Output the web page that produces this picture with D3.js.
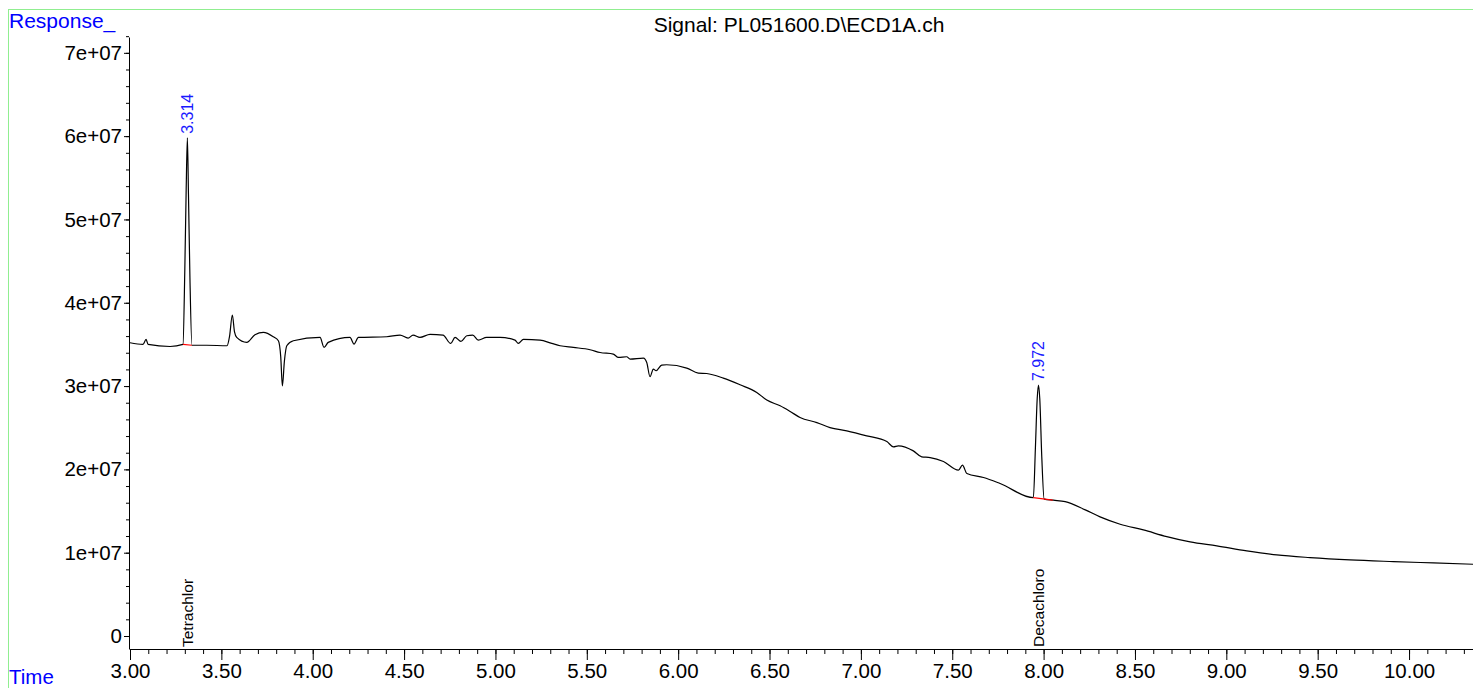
<!DOCTYPE html>
<html>
<head>
<meta charset="utf-8">
<script src="https://cdn.jsdelivr.net/npm/d3@7"></script>
<style>
  html, body { margin: 0; padding: 0; background: #fff; }
  svg { display: block; font-family: "Liberation Sans", Arial, sans-serif; }
</style>
</head>
<body>
<svg id="chart" width="1473" height="688"></svg>
<script>
// Chromatogram trace: retention time (min) and response
const times = [
  3.000, 3.071, 3.088, 3.099, 3.219, 3.290, 3.300, 3.307, 3.314, 3.320, 3.328, 3.339,
  3.420, 3.531, 3.545, 3.560, 3.572, 3.584, 3.639, 3.684, 3.730, 3.784, 3.812, 3.825,
  3.834, 3.845, 3.858, 3.894, 4.040, 4.062, 4.085, 4.204, 4.226, 4.250, 4.405, 4.478,
  4.522, 4.549, 4.587, 4.642, 4.713, 4.755, 4.779, 4.811, 4.843, 4.876, 4.906, 4.952,
  5.025, 5.107, 5.125, 5.153, 5.244, 5.308, 5.354, 5.426, 5.518, 5.573, 5.645, 5.673,
  5.718, 5.737, 5.810, 5.828, 5.846, 5.864, 5.879, 5.910, 5.937, 6.047, 6.110, 6.156,
  6.247, 6.339, 6.430, 6.485, 6.558, 6.613, 6.667, 6.759, 6.831, 6.923, 7.032, 7.142,
  7.178, 7.205, 7.287, 7.333, 7.379, 7.452, 7.534, 7.556, 7.580, 7.671, 7.762, 7.944,
  7.955, 7.965, 7.972, 7.979, 7.990, 8.003, 8.054, 8.118, 8.228, 8.309, 8.419, 8.546,
  8.674, 8.802, 8.948, 9.112, 9.276, 9.458, 9.677, 9.915, 10.133, 10.350
];
const responses = [
  3.52e7, 3.50e7, 3.56e7, 3.50e7, 3.475e7, 3.50e7, 4.40e7, 5.30e7, 5.98e7, 5.30e7, 4.30e7, 3.49e7,
  3.49e7, 3.484e7, 3.60e7, 3.853e7, 3.65e7, 3.584e7, 3.524e7, 3.616e7, 3.644e7, 3.592e7, 3.544e7, 3.35e7,
  3.003e7, 3.30e7, 3.484e7, 3.544e7, 3.584e7, 3.464e7, 3.524e7, 3.584e7, 3.504e7, 3.584e7, 3.592e7, 3.612e7,
  3.576e7, 3.612e7, 3.584e7, 3.620e7, 3.612e7, 3.512e7, 3.584e7, 3.536e7, 3.604e7, 3.612e7, 3.552e7, 3.584e7,
  3.584e7, 3.552e7, 3.512e7, 3.560e7, 3.552e7, 3.512e7, 3.484e7, 3.464e7, 3.436e7, 3.403e7, 3.384e7, 3.344e7,
  3.352e7, 3.324e7, 3.336e7, 3.283e7, 3.112e7, 3.204e7, 3.184e7, 3.252e7, 3.256e7, 3.216e7, 3.156e7, 3.151e7,
  3.096e7, 3.015e7, 2.923e7, 2.832e7, 2.763e7, 2.695e7, 2.623e7, 2.562e7, 2.502e7, 2.463e7, 2.403e7, 2.334e7,
  2.271e7, 2.283e7, 2.222e7, 2.150e7, 2.142e7, 2.094e7, 1.991e7, 2.051e7, 1.950e7, 1.902e7, 1.830e7, 1.661e7,
  2.25e7, 2.85e7, 3.012e7, 2.85e7, 2.15e7, 1.642e7, 1.630e7, 1.613e7, 1.514e7, 1.430e7, 1.342e7, 1.273e7,
  1.193e7, 1.129e7, 1.081e7, 1.021e7, 0.973e7, 0.941e7, 0.913e7, 0.893e7, 0.877e7, 0.861e7
];

// Integrated peaks
const peakTimes = [3.314, 7.972];
const peakHeights = [5.98e7, 3.012e7];
const peakNames = ["Tetrachlor", "Decachloro"];
const baseStart = [[3.290, 3.50e7], [7.944, 1.661e7]];
const baseEnd = [[3.339, 3.49e7], [8.050, 1.630e7]];

const yMajor = [0, 1e7, 2e7, 3e7, 4e7, 5e7, 6e7, 7e7];
const title = "Signal: PL051600.D\\ECD1A.ch";

const svg = d3.select("#chart");

const x = d3.scaleLinear().domain([3.0, 10.35]).range([130, 1473]);
const y = d3.scaleLinear().domain([-1.56e6, 7.19e7]).range([649, 37]);

// Frame
svg.append("rect")
  .attr("x", 8.5).attr("y", 9.5)
  .attr("width", 1500).attr("height", 700)
  .attr("fill", "none")
  .attr("stroke", "#90ee90")
  .attr("stroke-width", 1);

// X axis: minor ticks every 0.1, labelled major every 0.5
const xMinor = d3.range(30, 104).map(d => d / 10);
const xMajor = d3.range(6, 21).map(d => d / 2);

const xAxisMinor = svg.append("g")
  .attr("transform", `translate(0,${y.range()[0]})`)
  .call(d3.axisBottom(x).tickValues(xMinor).tickSize(5).tickFormat(""));
xAxisMinor.select(".domain").remove();

const xAxis = svg.append("g")
  .attr("transform", `translate(0,${y.range()[0]})`)
  .call(d3.axisBottom(x).tickValues(xMajor).tickSize(11).tickSizeOuter(0).tickPadding(3).tickFormat(d3.format(".2f")));
xAxis.selectAll("text")
  .attr("font-size", "20.5px")
  .attr("fill", "#000");

// Y axis
const yMinor = d3.range(0, 37).map(d => d * 2e6);
const yAxisMinor = svg.append("g")
  .attr("transform", `translate(${x.range()[0] - 1},0)`)
  .call(d3.axisLeft(y).tickValues(yMinor).tickSize(3).tickFormat(""));
yAxisMinor.select(".domain").remove();

const yAxis = svg.append("g")
  .attr("transform", `translate(${x.range()[0] - 1},0)`)
  .call(d3.axisLeft(y).tickValues(yMajor).tickSize(5).tickSizeOuter(0).tickPadding(2)
    .tickFormat(d => d === 0 ? "0" : `${d / 1e7}e+07`));
yAxis.selectAll("text")
  .attr("font-size", "20.5px")
  .attr("fill", "#000");

svg.selectAll(".domain").attr("stroke", "#000");

// Signal trace
const line = d3.line()
  .x(d => x(d[0]))
  .y(d => y(d[1]))
  .curve(d3.curveMonotoneX);

svg.append("path")
  .datum(d3.zip(times, responses))
  .attr("d", line)
  .attr("fill", "none")
  .attr("stroke", "#000")
  .attr("stroke-width", 1.2);

// Integration baselines
svg.selectAll(".baseline")
  .data(d3.zip(baseStart, baseEnd))
  .join("line")
  .attr("class", "baseline")
  .attr("x1", d => x(d[0][0])).attr("y1", d => y(d[0][1]))
  .attr("x2", d => x(d[1][0])).attr("y2", d => y(d[1][1]))
  .attr("stroke", "#ff0000")
  .attr("stroke-width", 1.2);

// Retention time labels
svg.selectAll(".rt")
  .data(d3.zip(peakTimes, peakHeights))
  .join("text")
  .attr("class", "rt")
  .attr("transform", d => `translate(${x(d[0])},${y(d[1]) - 4}) rotate(-90)`)
  .attr("dy", "0.36em")
  .attr("font-size", "16px")
  .attr("fill", "#1a1aff")
  .text(d => d[0].toFixed(3));

// Compound names along the bottom
svg.selectAll(".compound")
  .data(d3.zip(peakTimes, peakNames))
  .join("text")
  .attr("class", "compound")
  .attr("transform", d => `translate(${x(d[0])},${y.range()[0] - 2}) rotate(-90)`)
  .attr("dy", "0.36em")
  .attr("font-size", "15.5px")
  .attr("fill", "#000")
  .text(d => d[1]);

// Titles
svg.append("text")
  .attr("x", 799).attr("y", 32)
  .attr("text-anchor", "middle")
  .attr("font-size", "21px")
  .attr("fill", "#000")
  .text(title);

svg.append("text")
  .attr("x", 9).attr("y", 28)
  .attr("font-size", "21px")
  .attr("fill", "#0000ff")
  .text("Response_");

svg.append("text")
  .attr("x", 9).attr("y", 684)
  .attr("font-size", "20.5px")
  .attr("fill", "#0000ff")
  .text("Time");
</script>
</body>
</html>
